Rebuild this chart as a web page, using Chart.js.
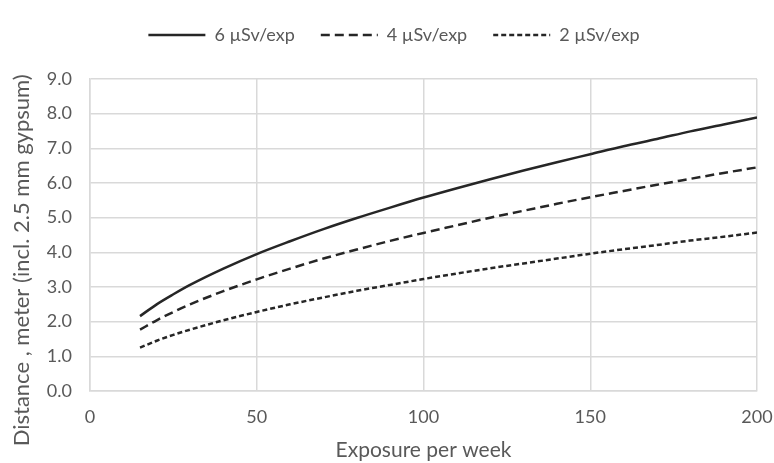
<!DOCTYPE html>
<html>
<head>
<meta charset="utf-8">
<script src="https://cdn.jsdelivr.net/npm/chart.js@4/dist/chart.umd.min.js"></script>
<style>
  html, body { margin: 0; padding: 0; background: #fff; }
  #wrap { width: 774px; height: 463px; }
</style>
</head>
<body>
<div id="wrap"><canvas id="chart" width="774" height="463"></canvas></div>
<script>
// exposures per week (x) and distance in meter for each dose level
const exposures = [15, 20, 25, 30, 40, 50, 60, 70, 80, 90, 100, 110, 120, 130, 140, 150, 160, 170, 180, 190, 200];
const dose6 = [2.16, 2.50, 2.79, 3.06, 3.53, 3.95, 4.32, 4.67, 4.99, 5.29, 5.58, 5.85, 6.11, 6.36, 6.60, 6.83, 7.06, 7.27, 7.49, 7.69, 7.89];
const dose4 = [1.77, 2.04, 2.28, 2.50, 2.88, 3.22, 3.53, 3.82, 4.08, 4.33, 4.56, 4.78, 5.00, 5.20, 5.40, 5.59, 5.77, 5.95, 6.12, 6.29, 6.45];
const dose2 = [1.25, 1.45, 1.62, 1.77, 2.04, 2.28, 2.50, 2.70, 2.89, 3.06, 3.23, 3.39, 3.54, 3.68, 3.82, 3.96, 4.09, 4.21, 4.34, 4.45, 4.57];
const seriesNames = ['6 µSv/exp', '4 µSv/exp', '2 µSv/exp'];

const toPoints = vals => vals.map((v, i) => ({ x: exposures[i], y: v }));

const lineColor = '#262626';
const textColor = '#595959';
const gridColor = '#d9d9d9';
const fontFamily = 'Lato, "Open Sans", sans-serif';
const tickFont = { family: fontFamily, size: 18 };

// legend takes a fixed band at the top so the plot starts where the reference does,
// and sits a little right of the canvas centre like the original
const legendBand = {
  id: 'legendBand',
  beforeInit(chart) {
    const fit = chart.legend.fit;
    chart.legend.fit = function () {
      fit.call(this);
      this.height = 79;
    };
  },
  afterLayout(chart) {
    chart.legend.left += 7;
    chart.legend.right += 7;
  },
};

const chart = new Chart(document.getElementById('chart'), {
  type: 'line',
  data: {
    datasets: [
      { label: seriesNames[0], data: toPoints(dose6), borderDash: [] },
      { label: seriesNames[1], data: toPoints(dose4), borderDash: [9, 5] },
      { label: seriesNames[2], data: toPoints(dose2), borderDash: [5, 3] },
    ],
  },
  options: {
    responsive: false,
    animation: false,
    events: [],
    elements: {
      point: { radius: 0 },
      line: { borderColor: lineColor, borderWidth: 2.5, tension: 0.4, cubicInterpolationMode: 'monotone', fill: false },
    },
    layout: { padding: 0 },
    plugins: {
      tooltip: { enabled: false },
      legend: {
        position: 'top',
        labels: {
          usePointStyle: true,
          pointStyle: 'line',
          pointStyleWidth: 57,
          color: textColor,
          font: tickFont,
          padding: 26,
          generateLabels: chart => {
            const items = Chart.defaults.plugins.legend.labels.generateLabels(chart);
            items.forEach((item, i) => {
              item.lineDash = chart.data.datasets[i].borderDash;
              item.strokeStyle = lineColor;
              item.lineWidth = 2.5;
            });
            return items;
          },
        },
      },
    },
    scales: {
      x: {
        type: 'linear',
        min: 0,
        max: 200,
        ticks: { stepSize: 50, color: textColor, font: tickFont, padding: 15 },
        grid: { color: gridColor, lineWidth: 1.5, drawTicks: false },
        border: { color: gridColor, width: 1.5 },
        title: {
          display: true,
          text: 'Exposure per week',
          color: textColor,
          font: { family: fontFamily, size: 21 },
          padding: { top: 0, bottom: 0 },
        },
        afterFit: scale => {
          scale.height = 72;
          scale.paddingRight = 17;
        },
      },
      y: {
        min: 0,
        max: 9,
        ticks: {
          stepSize: 1,
          color: textColor,
          font: tickFont,
          padding: 18,
          callback: v => v.toFixed(1),
        },
        grid: { color: gridColor, lineWidth: 1.5, drawTicks: false },
        border: { color: gridColor, width: 1.5 },
        title: {
          display: true,
          // trailing spaces push the title a bit lower, as in the original
          text: 'Distance , meter (incl. 2.5 mm gypsum)' + '\u00a0'.repeat(9),
          color: textColor,
          font: { family: fontFamily, size: 22 },
          padding: { top: 9, bottom: 0 },
        },
        afterFit: scale => { scale.width = 90; },
      },
    },
  },
  plugins: [legendBand],
});
</script>
</body>
</html>
